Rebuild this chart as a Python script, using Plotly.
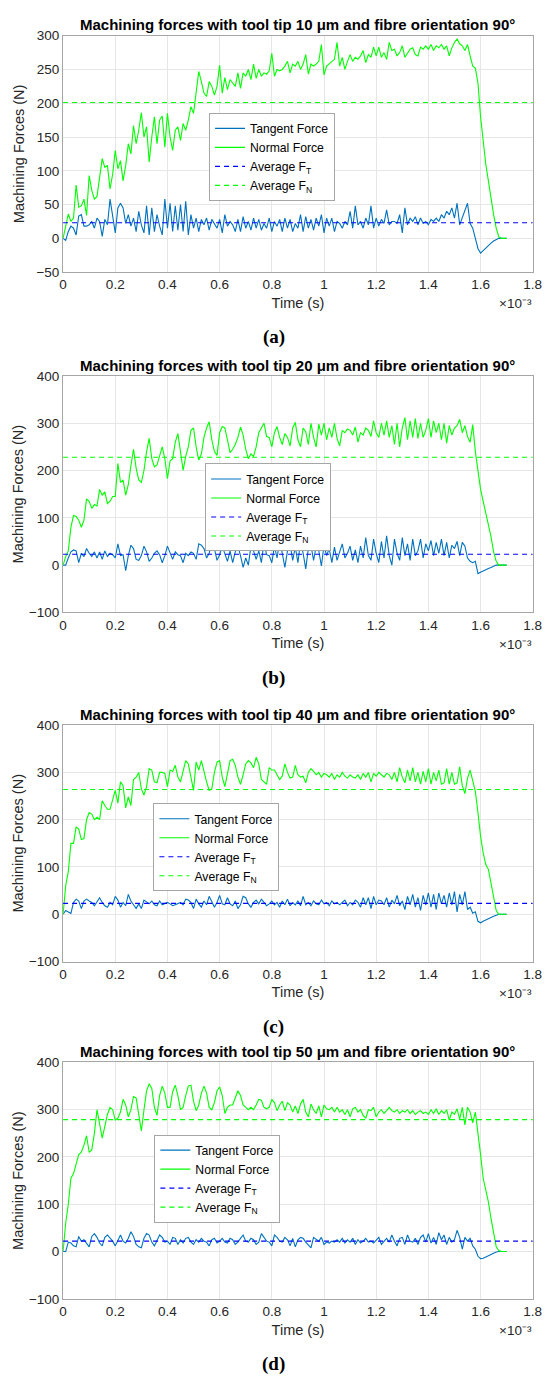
import numpy as np
import plotly.graph_objects as go

# ---------------------------------------------------------------------------
# Data: machining forces sampled every 0.01 ms from 0 to 1.70 ms
# ---------------------------------------------------------------------------
time_ms = np.round(np.arange(171) * 0.01, 2)
time_s = time_ms * 1e-3

tool_tips_um = [10, 20, 40, 50]
panel_letters = ["a", "b", "c", "d"]

normal_10 = [
    0, 18, 36, 25, 30, 79, 46, 48, 58, 34,
    93, 71, 58, 62, 90, 118, 105, 108, 73, 95,
    130, 103, 115, 85, 108, 140, 125, 167, 140, 160,
    186, 150, 165, 113, 150, 180, 140, 175, 181, 135,
    185, 150, 130, 160, 165, 145, 170, 160, 175, 195,
    185, 215, 247, 232, 215, 210, 232, 225, 212, 225,
    256, 215, 238, 220, 235, 230, 225, 245, 222, 245,
    240, 250, 235, 258, 237, 250, 240, 245, 243, 248,
    274, 240, 250, 248, 250, 255, 262, 245, 258, 255,
    262, 250, 258, 272, 243, 258, 255, 258, 262, 287,
    242, 255, 258, 262, 265, 290, 255, 268, 250, 262,
    272, 262, 268, 265, 270, 278, 260, 272, 268, 283,
    270, 283, 268, 275, 265, 290, 278, 280, 270, 275,
    285, 268, 275, 280, 282, 272, 270, 283, 280, 285,
    280, 287, 278, 285, 282, 287, 280, 285, 270, 282,
    290, 295, 288, 285, 278, 287, 270, 255, 252, 230,
    180, 140, 110, 85, 58, 35, 15, 2, 0, 0,
    0,
]
tangent_10 = [
    0, -3, 10, 18, 15, 5, 33, 35, 18, 18,
    20, 25, 15, 30, 25, 3, 28, 20, 58, 30,
    8, 45, 52, 45, 22, 35, 18, 30, 10, 40,
    20, 8, 48, 5, 45, 10, 35, 18, 5, 58,
    15, 52, 10, 48, 12, 50, 10, 55, 5, 35,
    15, 30, 10, 28, 20, 30, 12, 28, 22, 15,
    28, 8, 35, 18, 25, 20, 10, 28, 10, 32,
    15, 25, 12, 30, 15, 28, 12, 22, 15, 30,
    10, 25, 18, 28, 10, 30, 15, 28, 10, 22,
    15, 35, 10, 32, 15, 28, 12, 30, 18, 35,
    8, 30, 18, 30, 10, 25, 22, 15, 25, 20,
    40, 15, 48, 20, 25, 15, 30, 20, 48, 15,
    30, 18, 28, 22, 42, 20, 25, 25, 22, 35,
    8, 45, 20, 30, 25, 32, 20, 30, 22, 25,
    20, 28, 25, 30, 25, 35, 30, 40, 35, 45,
    30, 52, 20, 30, 40, 52, 22, 15, 0, -15,
    -22, -18, -14, -10, -7, -4, -2, 0, 0, 0,
    0,
]

normal_20 = [
    0, 18, 30, 80, 105, 103, 95, 80, 95, 140,
    135, 120, 128, 125, 160, 148, 155, 130, 135, 145,
    145, 215, 175, 180, 148, 170, 210, 245, 205, 180,
    175, 200, 240, 268, 225, 208, 212, 230, 250, 225,
    183, 220, 225, 260, 278, 240, 200, 230, 250, 285,
    290, 250, 222, 235, 270, 290, 303, 265, 240, 232,
    280, 293, 290, 265, 238, 245, 255, 270, 292, 275,
    245, 225, 235, 230, 250, 280, 290, 300, 272, 270,
    250, 280, 293, 270, 255, 278, 270, 252, 290, 302,
    265, 250, 290, 282, 255, 300, 270, 250, 298, 275,
    300, 265, 290, 270, 300, 268, 252, 285, 280, 288,
    285, 275, 292, 260, 280, 275, 290, 285, 272, 305,
    280, 270, 300, 275, 305, 270, 295, 255, 300, 250,
    290, 312, 265, 305, 270, 310, 268, 300, 270, 285,
    310, 270, 305, 280, 300, 265, 300, 258, 295, 275,
    290, 295, 308, 280, 295, 272, 260, 297, 240, 200,
    160, 135, 112, 85, 60, 28, 8, 0, 0, 0,
    0,
]
tangent_20 = [
    0, 0, 15, 28, 32, 30, 5, 25, 18, 35,
    25, 18, 28, 15, 28, 12, 30, 18, 25, 22,
    15, 45, 20, 22, -12, 20, 42, 35, 12, 10,
    20, 40, 28, 8, 15, 25, 30, 22, 5, 20,
    40, 25, 12, 28, 22, 20, 5, 25, 20, 28,
    25, 12, 45, 42, 35, 15, 25, 50, 35, 10,
    22, 40, 25, 8, 30, 5, 28, 40, 20, -5,
    15, 0, 40, 30, 12, 30, 5, 48, 22, 20,
    5, 40, 15, 50, 25, -5, 30, 45, 10, 38,
    5, 50, 25, -8, 35, 42, 10, 40, 30, -2,
    42, 20, 35, 5, 38, 10, 28, 45, 15, 25,
    40, 10, 32, 5, 40, 15, 58, 20, 10, 55,
    25, 5, 50, 15, 62, 20, 0, 55, 25, 10,
    58, 20, 45, 10, 55, 20, 30, 55, 15, 45,
    30, 52, 20, 48, 25, 55, 20, 48, 15, 42,
    35, 50, 20, 48, 40, 15, 8, 5, 8, -18,
    -15, -12, -10, -7, -5, -2, 0, 0, 0, 0,
    0,
]

normal_40 = [
    0, 60, 90, 150, 150, 185, 180, 158, 160, 200,
    215, 212, 200, 205, 200, 240, 230, 222, 222, 245,
    262, 235, 280, 272, 225, 248, 230, 285, 290, 300,
    265, 252, 270, 308, 305, 280, 278, 300, 300, 298,
    270, 305, 302, 315, 290, 280, 300, 325, 318, 290,
    262, 322, 305, 325, 300, 280, 262, 265, 300, 322,
    325, 290, 270, 300, 325, 328, 315, 290, 275, 295,
    318, 325, 320, 310, 332, 318, 285, 280, 275, 310,
    305, 305, 295, 285, 292, 318, 300, 288, 290, 315,
    295, 290, 292, 278, 300, 308, 302, 295, 300, 290,
    298, 295, 290, 298, 285, 295, 290, 300, 292, 288,
    295, 290, 288, 295, 285, 298, 290, 300, 280, 298,
    292, 300, 295, 290, 298, 295, 285, 300, 280, 310,
    290, 278, 305, 282, 310, 280, 300, 275, 302, 280,
    308, 275, 300, 282, 305, 275, 278, 308, 275, 300,
    275, 278, 312, 272, 255, 288, 305, 280, 260, 215,
    165, 130, 105, 95, 65, 30, 8, 0, 0, 0,
    0,
]
tangent_40 = [
    0, 8, 5, 2, 25, 32, 28, 12, 28, 32,
    28, 25, 18, 28, 35, 25, 18, 15, 25, 20,
    38, 30, 15, 25, 18, 42, 28, 20, 12, 22,
    12, 30, 25, 22, 28, 20, 18, 28, 20, 22,
    25, 22, 18, 20, 22, 25, 20, 32, 30, 25,
    12, 32, 22, 15, 28, 20, 38, 28, 15, 25,
    40, 22, 20, 35, 22, 18, 28, 12, 20, 38,
    35, 22, 15, 25, 30, 22, 32, 25, 18, 22,
    28, 20, 25, 15, 28, 20, 32, 18, 25, 20,
    28, 18, 38, 20, 25, 18, 28, 22, 20, 30,
    22, 25, 18, 28, 22, 25, 20, 25, 30, 18,
    25, 20, 30, 25, 15, 35, 20, 35, 12, 38,
    20, 30, 28, 20, 35, 15, 30, 22, 40, 18,
    28, 10, 38, 20, 42, 15, 35, 8, 40, 20,
    45, 15, 42, 10, 45, 22, 40, 15, 45, 20,
    48, 5, 42, 20, 48, 10, 15, 2, 5, -15,
    -18, -15, -12, -10, -7, -4, -2, 0, 0, 0,
    0,
]

normal_50 = [
    0, 60, 100, 155, 165, 185, 205, 210, 225, 245,
    210, 215, 250, 300, 265, 240, 265, 290, 305, 300,
    278, 282, 295, 322, 310, 285, 300, 328, 325, 285,
    255, 300, 340, 355, 345, 305, 288, 330, 350, 335,
    305, 305, 338, 352, 330, 300, 305, 330, 350, 352,
    318, 298, 310, 335, 350, 335, 305, 300, 315, 340,
    348, 330, 292, 305, 310, 310, 325, 340, 330, 310,
    305, 300, 305, 300, 310, 322, 320, 305, 302, 305,
    322, 315, 298, 310, 318, 298, 315, 310, 295, 308,
    292, 312, 322, 295, 285, 312, 300, 292, 308, 285,
    310, 302, 300, 305, 295, 305, 295, 300, 290, 300,
    285, 302, 305, 295, 300, 288, 282, 300, 298, 305,
    285, 295, 300, 292, 298, 305, 298, 295, 300, 292,
    298, 295, 300, 292, 298, 290, 295, 298, 292, 295,
    290, 300, 292, 302, 290, 298, 292, 300, 278, 295,
    290, 302, 280, 305, 268, 305, 295, 272, 295, 255,
    205, 155, 130, 105, 70, 35, 10, 2, 0, 0,
    0,
]
tangent_50 = [
    0, 0, 20, 18, 12, 10, 32, 22, 25, 18,
    10, 32, 38, 30, 18, 12, 30, 35, 28, 22,
    12, 25, 35, 22, 18, 28, 42, 32, 15, 10,
    8, 28, 38, 35, 20, 12, 22, 35, 30, 20,
    22, 15, 30, 28, 15, 25, 18, 28, 30, 20,
    15, 25, 20, 28, 22, 20, 12, 25, 28, 18,
    22, 28, 20, 18, 28, 25, 15, 20, 28, 35,
    22, 20, 28, 25, 15, 20, 38, 30, 22, 20,
    12, 35, 30, 22, 20, 30, 25, 12, 28, 10,
    25, 30, 28, 20, 15, 8, 30, 25, 22, 30,
    15, 20, 18, 22, 20, 25, 20, 28, 18, 25,
    20, 28, 15, 25, 18, 22, 28, 20, 22, 18,
    25, 30, 15, 22, 28, 20, 35, 22, 12, 28,
    30, 15, 35, 22, 20, 28, 15, 30, 35, 20,
    38, 18, 30, 15, 40, 25, 35, 15, 30, 20,
    25, 45, 30, 5, 30, 22, 28, 12, 5, -10,
    -15, -14, -12, -9, -6, -3, -1, 0, 0, 0,
    0,
]

normal_forces = [normal_10, normal_20, normal_40, normal_50]
tangent_forces = [tangent_10, tangent_20, tangent_40, tangent_50]
average_ft = [23, 23, 23, 22]
average_fn = [201, 228, 264, 279]

y_ranges = [(-50, 300), (-100, 400), (-100, 400), (-100, 400)]
y_dticks = [50, 100, 100, 100]

x_tick_ms = [0, 0.2, 0.4, 0.6, 0.8, 1, 1.2, 1.4, 1.6, 1.8]
x_tick_labels = ["0", "0.2", "0.4", "0.6", "0.8", "1", "1.2", "1.4", "1.6", "1.8"]

# ---------------------------------------------------------------------------
# Styling / geometry
# ---------------------------------------------------------------------------
FIG_W, FIG_H = 552, 1384
PLOT_L, PLOT_R = 60.5, 541.5
panel_top = [29, 373, 726, 1067]
panel_bot = [268, 612, 965, 1306]
legend_left = [210, 206, 153, 154]
legend_top = [107, 461.5, 805, 1140]
y_title_standoff = [8, 1, 1, 1]

SANS = "Liberation Sans, Arial, Helvetica, sans-serif"
SERIF = "Liberation Serif, Times New Roman, serif"
C_TANGENT = "#0072BD"
C_NORMAL = "#00FF00"
C_AVG_T = "#0000FF"
C_AVG_N = "#00FF00"
C_TEXT = "#262626"
C_AXIS = "#a6a6a6"
C_GRID = "#e6e6e6"


def px_y(p):
    return 1 - p / FIG_H


def px_x(p):
    return p / FIG_W


fig = go.Figure()
layout = dict(
    width=FIG_W,
    height=FIG_H,
    autosize=False,
    margin=dict(l=0, r=0, t=0, b=0),
    paper_bgcolor="white",
    plot_bgcolor="white",
    font=dict(family=SANS, color=C_TEXT),
    annotations=[],
)

x_domain = [px_x(PLOT_L), px_x(PLOT_R)]
t_end = [time_s[0], x_tick_ms[-1] * 1e-3]

for i in range(4):
    n = "" if i == 0 else str(i + 1)
    xa, ya = "x" + n, "y" + n
    leg = "legend" + n

    fig.add_trace(go.Scatter(
        x=time_s, y=tangent_forces[i], mode="lines", name="Tangent Force",
        line=dict(color=C_TANGENT, width=1.1), xaxis=xa, yaxis=ya, legend=leg))
    fig.add_trace(go.Scatter(
        x=time_s, y=normal_forces[i], mode="lines", name="Normal Force",
        line=dict(color=C_NORMAL, width=1.1), xaxis=xa, yaxis=ya, legend=leg))
    fig.add_trace(go.Scatter(
        x=t_end, y=[average_ft[i]] * 2, mode="lines", name="Average F<sub>T</sub>",
        line=dict(color=C_AVG_T, width=1.1, dash="5px,4px"),
        xaxis=xa, yaxis=ya, legend=leg))
    fig.add_trace(go.Scatter(
        x=t_end, y=[average_fn[i]] * 2, mode="lines", name="Average F<sub>N</sub>",
        line=dict(color=C_AVG_N, width=1.1, dash="5px,4px"),
        xaxis=xa, yaxis=ya, legend=leg))

    y_dom = [px_y(panel_bot[i]), px_y(panel_top[i])]
    layout["xaxis" + n] = dict(
        domain=x_domain, anchor=ya, range=[0, 1.8e-3],
        tickmode="array", tickvals=[v * 1e-3 for v in x_tick_ms], ticktext=x_tick_labels,
        showgrid=True, gridcolor=C_GRID, gridwidth=1, zeroline=False,
        showline=True, linecolor=C_AXIS, linewidth=1, mirror=True, ticks="",
        tickfont=dict(size=13.5, color=C_TEXT, family=SANS),
        title=dict(text="Time (s)", font=dict(size=14.5, color=C_TEXT, family=SANS), standoff=6),
        fixedrange=True,
    )
    layout["yaxis" + n] = dict(
        domain=y_dom, anchor=xa, range=list(y_ranges[i]), dtick=y_dticks[i], tick0=0,
        showgrid=True, gridcolor=C_GRID, gridwidth=1, zeroline=False,
        showline=True, linecolor=C_AXIS, linewidth=1, mirror=True, ticks="",
        tickfont=dict(size=13.5, color=C_TEXT, family=SANS),
        title=dict(text="Machining Forces (N)", font=dict(size=14.5, color=C_TEXT, family=SANS),
                   standoff=y_title_standoff[i]),
        fixedrange=True,
    )
    layout[leg] = dict(
        x=px_x(legend_left[i]), y=px_y(legend_top[i]), xanchor="left", yanchor="top",
        xref="paper", yref="paper",
        bgcolor="white", bordercolor=C_AXIS, borderwidth=1,
        font=dict(size=12.2, color="#000000", family=SANS),
        itemwidth=30, tracegroupgap=0,
    )

    layout["annotations"] += [
        dict(
            text=f"Machining forces with tool tip {tool_tips_um[i]} μm and fibre orientation 90°",
            x=px_x((PLOT_L + PLOT_R) / 2), y=px_y(panel_top[i] - 11),
            xref="paper", yref="paper", xanchor="center", yanchor="middle",
            showarrow=False, font=dict(size=15, color="#000000", family=SANS, weight="bold"),
        ),
        dict(
            text="×10⁻³",
            x=px_x(PLOT_R + 1), y=px_y(panel_bot[i] + 32),
            xref="paper", yref="paper", xanchor="right", yanchor="middle",
            showarrow=False, font=dict(size=13.5, color=C_TEXT, family=SANS),
        ),
        dict(
            text=f"({panel_letters[i]})",
            x=0.5, y=px_y(panel_bot[i] + 66),
            xref="paper", yref="paper", xanchor="center", yanchor="middle",
            showarrow=False, font=dict(size=19, color="#000000", family=SERIF, weight="bold"),
        ),
    ]

fig.update_layout(**layout)
fig.write_html("out.html", config={"displayModeBar": False})
